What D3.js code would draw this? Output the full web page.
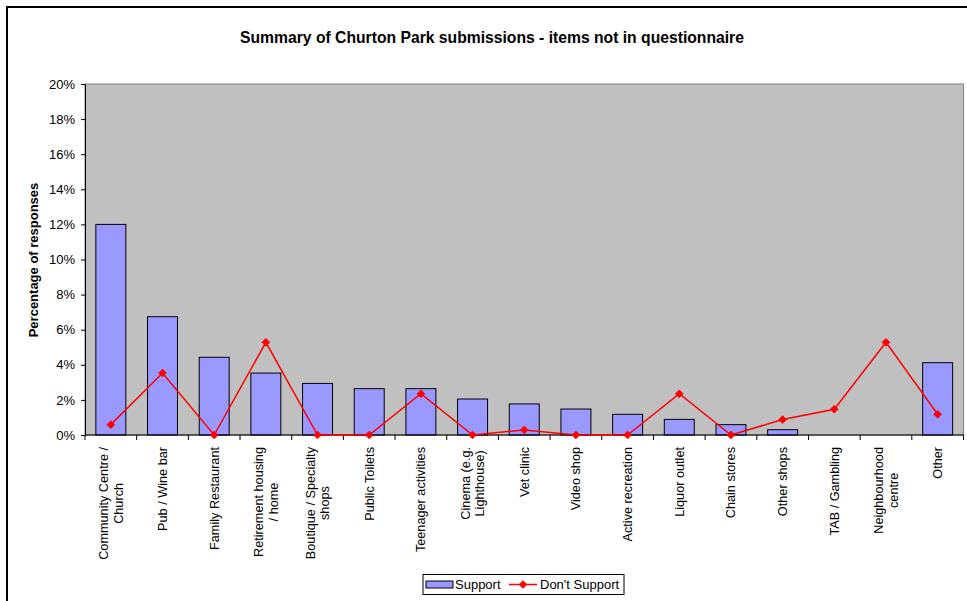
<!DOCTYPE html>
<html>
<head>
<meta charset="utf-8">
<script src="https://cdn.jsdelivr.net/npm/d3@7"></script>
<style>
  html, body { margin: 0; padding: 0; background: #fff; }
  svg { display: block; font-family: Arial, "Liberation Sans", sans-serif; }
</style>
</head>
<body>
<svg id="chart" width="967" height="601"></svg>
<script>
// Categories (label lines split where the axis wraps them)
const categories = [
  ["Community Centre /", "Church"],
  ["Pub / Wine bar"],
  ["Family Restaurant"],
  ["Retirement housing", "/ home"],
  ["Boutique / Specialty", "shops"],
  ["Public Toilets"],
  ["Teenager activities"],
  ["Cinema (e.g.", "Lighthouse)"],
  ["Vet clinic"],
  ["Video shop"],
  ["Active recreation"],
  ["Liquor outlet"],
  ["Chain stores"],
  ["Other shops"],
  ["TAB / Gambling"],
  ["Neighbourhood", "centre"],
  ["Other"]
];

// Share of responses (%)
const support =    [12.0, 6.74, 4.43, 3.53, 2.94, 2.64, 2.64, 2.05, 1.77, 1.48, 1.18, 0.89, 0.59, 0.30, 0, 0, 4.12];
const dontSupport = [0.59, 3.53, 0, 5.28, 0, 0, 2.35, 0, 0.29, 0, 0, 2.35, 0, 0.88, 1.47, 5.28, 1.18];

const yTicks = [0, 2, 4, 6, 8, 10, 12, 14, 16, 18, 20];

const title = "Summary of Churton Park submissions - items not in questionnaire";
const yTitle = "Percentage of responses";
const seriesNames = ["Support", "Don't Support"];

const svg = d3.select("#chart");
const plot = { left: 85, top: 84, right: 963.5, bottom: 435 };

// Outer chart frame
svg.append("rect")
  .attr("x", 7).attr("y", 7).attr("width", 1000).attr("height", 700)
  .attr("fill", "#fff").attr("stroke", "#000").attr("stroke-width", 2);

const idx = categories.map((d, i) => i);
const x = d3.scaleBand().domain(idx).range([plot.left, plot.right])
  .paddingInner(0.42).paddingOuter(0.21);
const xStep = x.step();
const cx = i => x(i) + x.bandwidth() / 2;
const y = d3.scaleLinear().domain([0, 20]).range([plot.bottom, plot.top]);

// Plot area background
svg.append("rect")
  .attr("x", plot.left).attr("y", plot.top)
  .attr("width", plot.right - plot.left).attr("height", plot.bottom - plot.top)
  .attr("fill", "#C0C0C0").attr("stroke", "#808080").attr("stroke-width", 1);

// Support bars
svg.append("g").selectAll("rect")
  .data(support.map((v, i) => ({ v, i })).filter(d => d.v > 0))
  .join("rect")
  .attr("x", d => x(d.i)).attr("y", d => y(d.v))
  .attr("width", x.bandwidth()).attr("height", d => y(0) - y(d.v))
  .attr("fill", "#9999FF").attr("stroke", "#000").attr("stroke-width", 1);

// Y axis
const yAxis = d3.axisLeft(y).tickValues(yTicks).tickSize(4).tickPadding(6)
  .tickFormat(d => d + "%");
const yg = svg.append("g").attr("transform", `translate(${plot.left},0)`).call(yAxis);
yg.select(".domain").attr("stroke", "#000");
yg.selectAll(".tick line").attr("stroke", "#000");
yg.selectAll(".tick text").attr("font-size", 13).attr("fill", "#000")
  .attr("font-family", "Arial, 'Liberation Sans', sans-serif");

// X axis: baseline and category boundary ticks
const xg = svg.append("g");
xg.append("line")
  .attr("x1", plot.left).attr("x2", plot.right)
  .attr("y1", plot.bottom).attr("y2", plot.bottom)
  .attr("stroke", "#000").attr("stroke-width", 1);
xg.selectAll("line.tick")
  .data(d3.range(categories.length + 1))
  .join("line").attr("class", "tick")
  .attr("x1", k => plot.left + k * xStep).attr("x2", k => plot.left + k * xStep)
  .attr("y1", plot.bottom).attr("y2", plot.bottom + 5)
  .attr("stroke", "#000");

// Category labels, rotated, lines centred on each other
const labelTop = 447;
categories.forEach((lines, i) => {
  const g = svg.append("g").attr("transform", `translate(${cx(i)},${labelTop}) rotate(-90)`);
  const texts = lines.map((t, j) => g.append("text")
    .attr("font-size", 12.7).attr("fill", "#000")
    .attr("text-anchor", "middle")
    .attr("y", (j - (lines.length - 1) / 2) * 14.5)
    .attr("dy", "0.35em")
    .text(t));
  const maxW = d3.max(texts, t => t.node().getComputedTextLength());
  texts.forEach(t => t.attr("x", -maxW / 2));
});

// Don't Support line with diamond markers
const line = d3.line().x((d, i) => cx(i)).y(d => y(d));
svg.append("path").datum(dontSupport)
  .attr("d", line).attr("fill", "none")
  .attr("stroke", "#FF0000").attr("stroke-width", 1.5);
const marker = d3.symbol().type(d3.symbolSquare).size(30);
svg.append("g").selectAll("path")
  .data(dontSupport)
  .join("path")
  .attr("d", marker)
  .attr("transform", (d, i) => `translate(${cx(i)},${y(d)}) rotate(45)`)
  .attr("fill", "#FF0000").attr("stroke", "#FF0000").attr("stroke-width", 0.8);

// Title
svg.append("text")
  .attr("x", 492).attr("y", 43)
  .attr("text-anchor", "middle")
  .attr("font-size", 15.7).attr("font-weight", "bold")
  .text(title);

// Y axis title
svg.append("text")
  .attr("transform", `translate(38,260) rotate(-90)`)
  .attr("text-anchor", "middle")
  .attr("font-size", 13).attr("font-weight", "bold")
  .text(yTitle);

// Legend
const lg = svg.append("g");
lg.append("rect").attr("x", 423).attr("y", 574.5).attr("width", 201).attr("height", 20)
  .attr("fill", "#fff").attr("stroke", "#000").attr("stroke-width", 1);
lg.append("rect").attr("x", 426).attr("y", 581).attr("width", 27).attr("height", 7)
  .attr("fill", "#9999FF").attr("stroke", "#000").attr("stroke-width", 1);
lg.append("text").attr("x", 455).attr("y", 589).attr("font-size", 13).text(seriesNames[0]);
lg.append("line").attr("x1", 509).attr("x2", 537).attr("y1", 584.5).attr("y2", 584.5)
  .attr("stroke", "#FF0000").attr("stroke-width", 1.5);
lg.append("path").attr("d", marker).attr("transform", "translate(523,584.5) rotate(45)")
  .attr("fill", "#FF0000").attr("stroke", "#FF0000").attr("stroke-width", 0.8);
lg.append("text").attr("x", 540).attr("y", 589).attr("font-size", 13).text(seriesNames[1]);
</script>
</body>
</html>
